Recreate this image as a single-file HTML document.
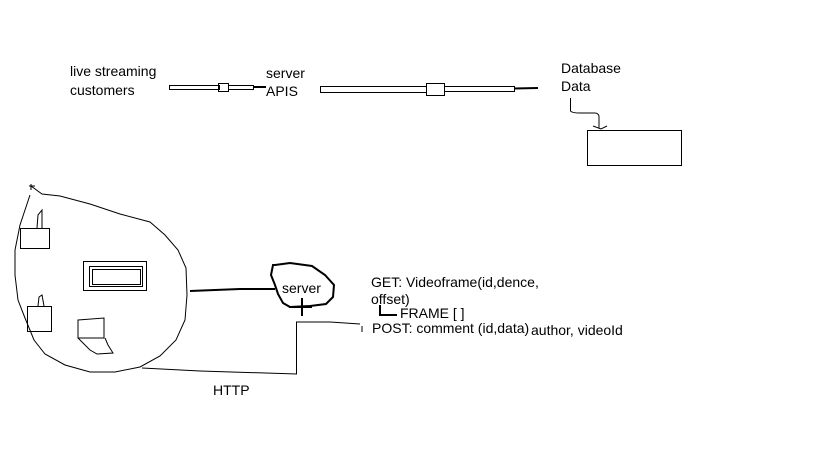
<!DOCTYPE html>
<html><head><meta charset="utf-8"><style>
html,body{margin:0;padding:0;background:#fff;}
svg{display:block}
text{font-family:"Liberation Sans",sans-serif;font-size:14px;fill:#000}
</style></head><body>
<svg width="819" height="460" viewBox="0 0 819 460" xmlns="http://www.w3.org/2000/svg">
<g fill="none" stroke="#000" stroke-width="1">
<!-- top arrows -->
<rect x="169.5" y="85.5" width="50" height="4"/>
<rect x="218.5" y="83.5" width="10" height="8"/>
<rect x="228.5" y="85.5" width="25" height="4"/>
<line x1="253" y1="87" x2="266" y2="87" stroke-width="2"/>
<rect x="320.5" y="86.5" width="106" height="6"/>
<rect x="426.5" y="83.5" width="18" height="12"/>
<rect x="444.5" y="86.5" width="70" height="5"/>
<line x1="514" y1="88.5" x2="538" y2="88" stroke-width="2"/>
<!-- db connector -->
<path d="M570.5 98 V111 Q572 113 580 113 H595 Q598 113 599 116 V128"/>
<path d="M593 126 L601 129 L607 126"/>
<rect x="587.5" y="130.5" width="94" height="35"/>
<!-- blob -->
<path d="M31 186 L42 194 L60 196 L90 204 L120 214 L150 222 L165 235 L178 250 L186 268 L187 295 L185 320 L176 340 L160 356 L140 367 L115 372 L90 372 L65 365 L45 354 L34 340 L25 318 L18 300 L15 275 L15 250 L20 225 L25 210 L30 195"/>
<path d="M29 186 L35 186 M31 184 L31 190"/>
<!-- phones -->
<rect x="20.5" y="228.5" width="29" height="20"/>
<path d="M37 228 L38 215 L42 210 L42 228"/>
<rect x="27.5" y="306.5" width="24" height="25"/>
<path d="M38 306 L39 297 L42 295 L44 306"/>
<!-- laptop -->
<path d="M78 320 L104 318 L104 338 L78 338 Z M78 338 L90 350 L97 354 L113 353 L108 345 L105 338"/>
<!-- screen -->
<rect x="83.5" y="261.5" width="63" height="29"/>
<rect x="89.5" y="266.5" width="53" height="20"/>
<rect x="92.5" y="269.5" width="48" height="15"/>
<!-- link to server -->
<path d="M190 291 L240 289 L275 289" stroke-width="2"/>
<path d="M275 265 L290 263 L312 266 L325 275 L334 285 L333 297 L326 304 L310 306 L290 307 L283 303 L278 294 L275 285 L271 275 L273 265 Z" stroke-width="2"/>
<path d="M302 298 V316 M289 307 H312" stroke-width="2"/>
<!-- http line -->
<path d="M296 322 H330 L360 324 M296.5 322 V374 L200 371 L142 368"/>
<!-- bracket -->
<path d="M380 305 V315 H397" stroke-width="2"/>
<line x1="362" y1="326" x2="362" y2="332"/>
</g>
<text x="70" y="76">live streaming</text>
<text x="70" y="95">customers</text>
<text x="266" y="78">server</text>
<text x="266" y="96">APIS</text>
<text x="561" y="73">Database</text>
<text x="561" y="91">Data</text>
<text x="282" y="293">server</text>
<text x="371" y="287">GET: Videoframe(id,dence,</text>
<text x="371" y="304">offset)</text>
<text x="400" y="318">FRAME [ ]</text>
<text x="372" y="333">POST: comment (id,data)</text>
<text x="531" y="335">author, videoId</text>
<text x="213" y="395">HTTP</text>
</svg>
</body></html>
